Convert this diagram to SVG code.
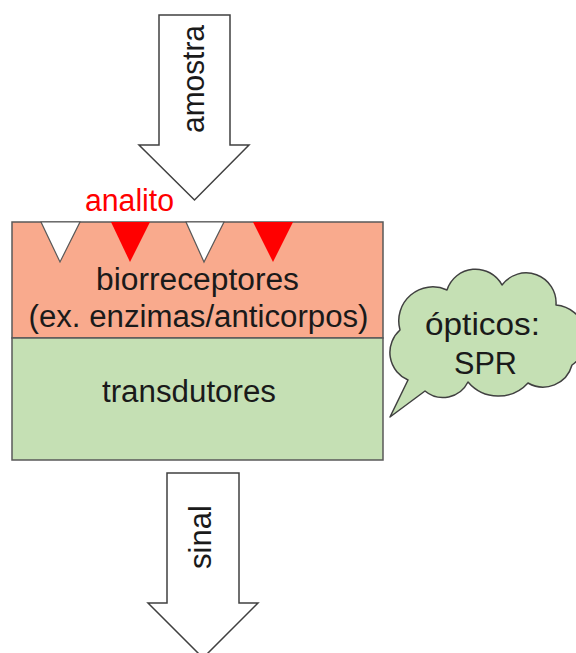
<svg xmlns="http://www.w3.org/2000/svg" width="576" height="653" viewBox="0 0 576 653">
  <style>
    .lbl { font-family: "Liberation Sans", Arial, sans-serif; font-size: 31px; fill: #1a1a1a; text-anchor: middle; }
    .arrow { fill: #ffffff; stroke: #404040; stroke-width: 1.5; stroke-linejoin: miter; }
    .layer { stroke: #595959; stroke-width: 1.5; }
    .site { fill: #ffffff; stroke: #595959; stroke-width: 1.2; }
    .bound { fill: #ff0000; stroke: none; }
  </style>

  <!-- sample input arrow -->
  <g id="amostra">
    <path class="arrow" d="M159 15 H230 V145 H249 L194.5 200 L139 145 H159 Z"/>
    <text class="lbl" transform="translate(204 79) rotate(-90)" textLength="108" lengthAdjust="spacingAndGlyphs">amostra</text>
  </g>

  <!-- analyte label -->
  <g id="analito">
    <text x="129.5" y="211" textLength="89" lengthAdjust="spacingAndGlyphs" style="font-family:'Liberation Sans', Arial, sans-serif; font-size:31px; fill:#ff0000; text-anchor:middle">analito</text>
  </g>

  <!-- bioreceptor layer with binding sites -->
  <g id="biorreceptores">
    <rect class="layer" x="12" y="222" width="371" height="116" fill="#f9aa8d"/>
    <polygon class="site" points="41,222 80,222 60,262"/>
    <polygon class="bound" points="111,222 150,222 130,262"/>
    <polygon class="site" points="186,222 224,222 204,262"/>
    <polygon class="bound" points="253,222 293,222 273,262"/>
    <text class="lbl" x="197.5" y="290" textLength="203" lengthAdjust="spacingAndGlyphs">biorreceptores</text>
    <text class="lbl" x="198.5" y="327" textLength="340" lengthAdjust="spacingAndGlyphs">(ex. enzimas/anticorpos)</text>
  </g>

  <!-- transducer layer -->
  <g id="transdutores">
    <rect class="layer" x="12" y="338" width="371" height="122" fill="#c5e0b4"/>
    <text class="lbl" x="189" y="402" textLength="174" lengthAdjust="spacingAndGlyphs">transdutores</text>
  </g>

  <!-- callout cloud -->
  <g id="opticos">
    <path d="M425 391 L390 417 L408 380 A30 30 0 0 1 400 330 A34 34 0 0 1 447 290 A30 30 0 0 1 502 285 A30 30 0 0 1 556 305 A33 33 0 0 1 572 365 A30 30 0 0 1 528 383 A40 40 0 0 1 468 382 A28 28 0 0 1 425 391 Z" fill="#c5e0b4" stroke="#404040" stroke-width="1.5" stroke-linejoin="round"/>
    <text class="lbl" x="482.5" y="335" textLength="115" lengthAdjust="spacingAndGlyphs">ópticos:</text>
    <text class="lbl" x="485.5" y="374" textLength="63" lengthAdjust="spacingAndGlyphs">SPR</text>
  </g>

  <!-- signal output arrow -->
  <g id="sinal">
    <path class="arrow" d="M167 473 H239 V603 H258 L203 658 L148 603 H167 Z"/>
    <text class="lbl" transform="translate(211 537) rotate(-90)" textLength="64" lengthAdjust="spacingAndGlyphs">sinal</text>
  </g>
</svg>
